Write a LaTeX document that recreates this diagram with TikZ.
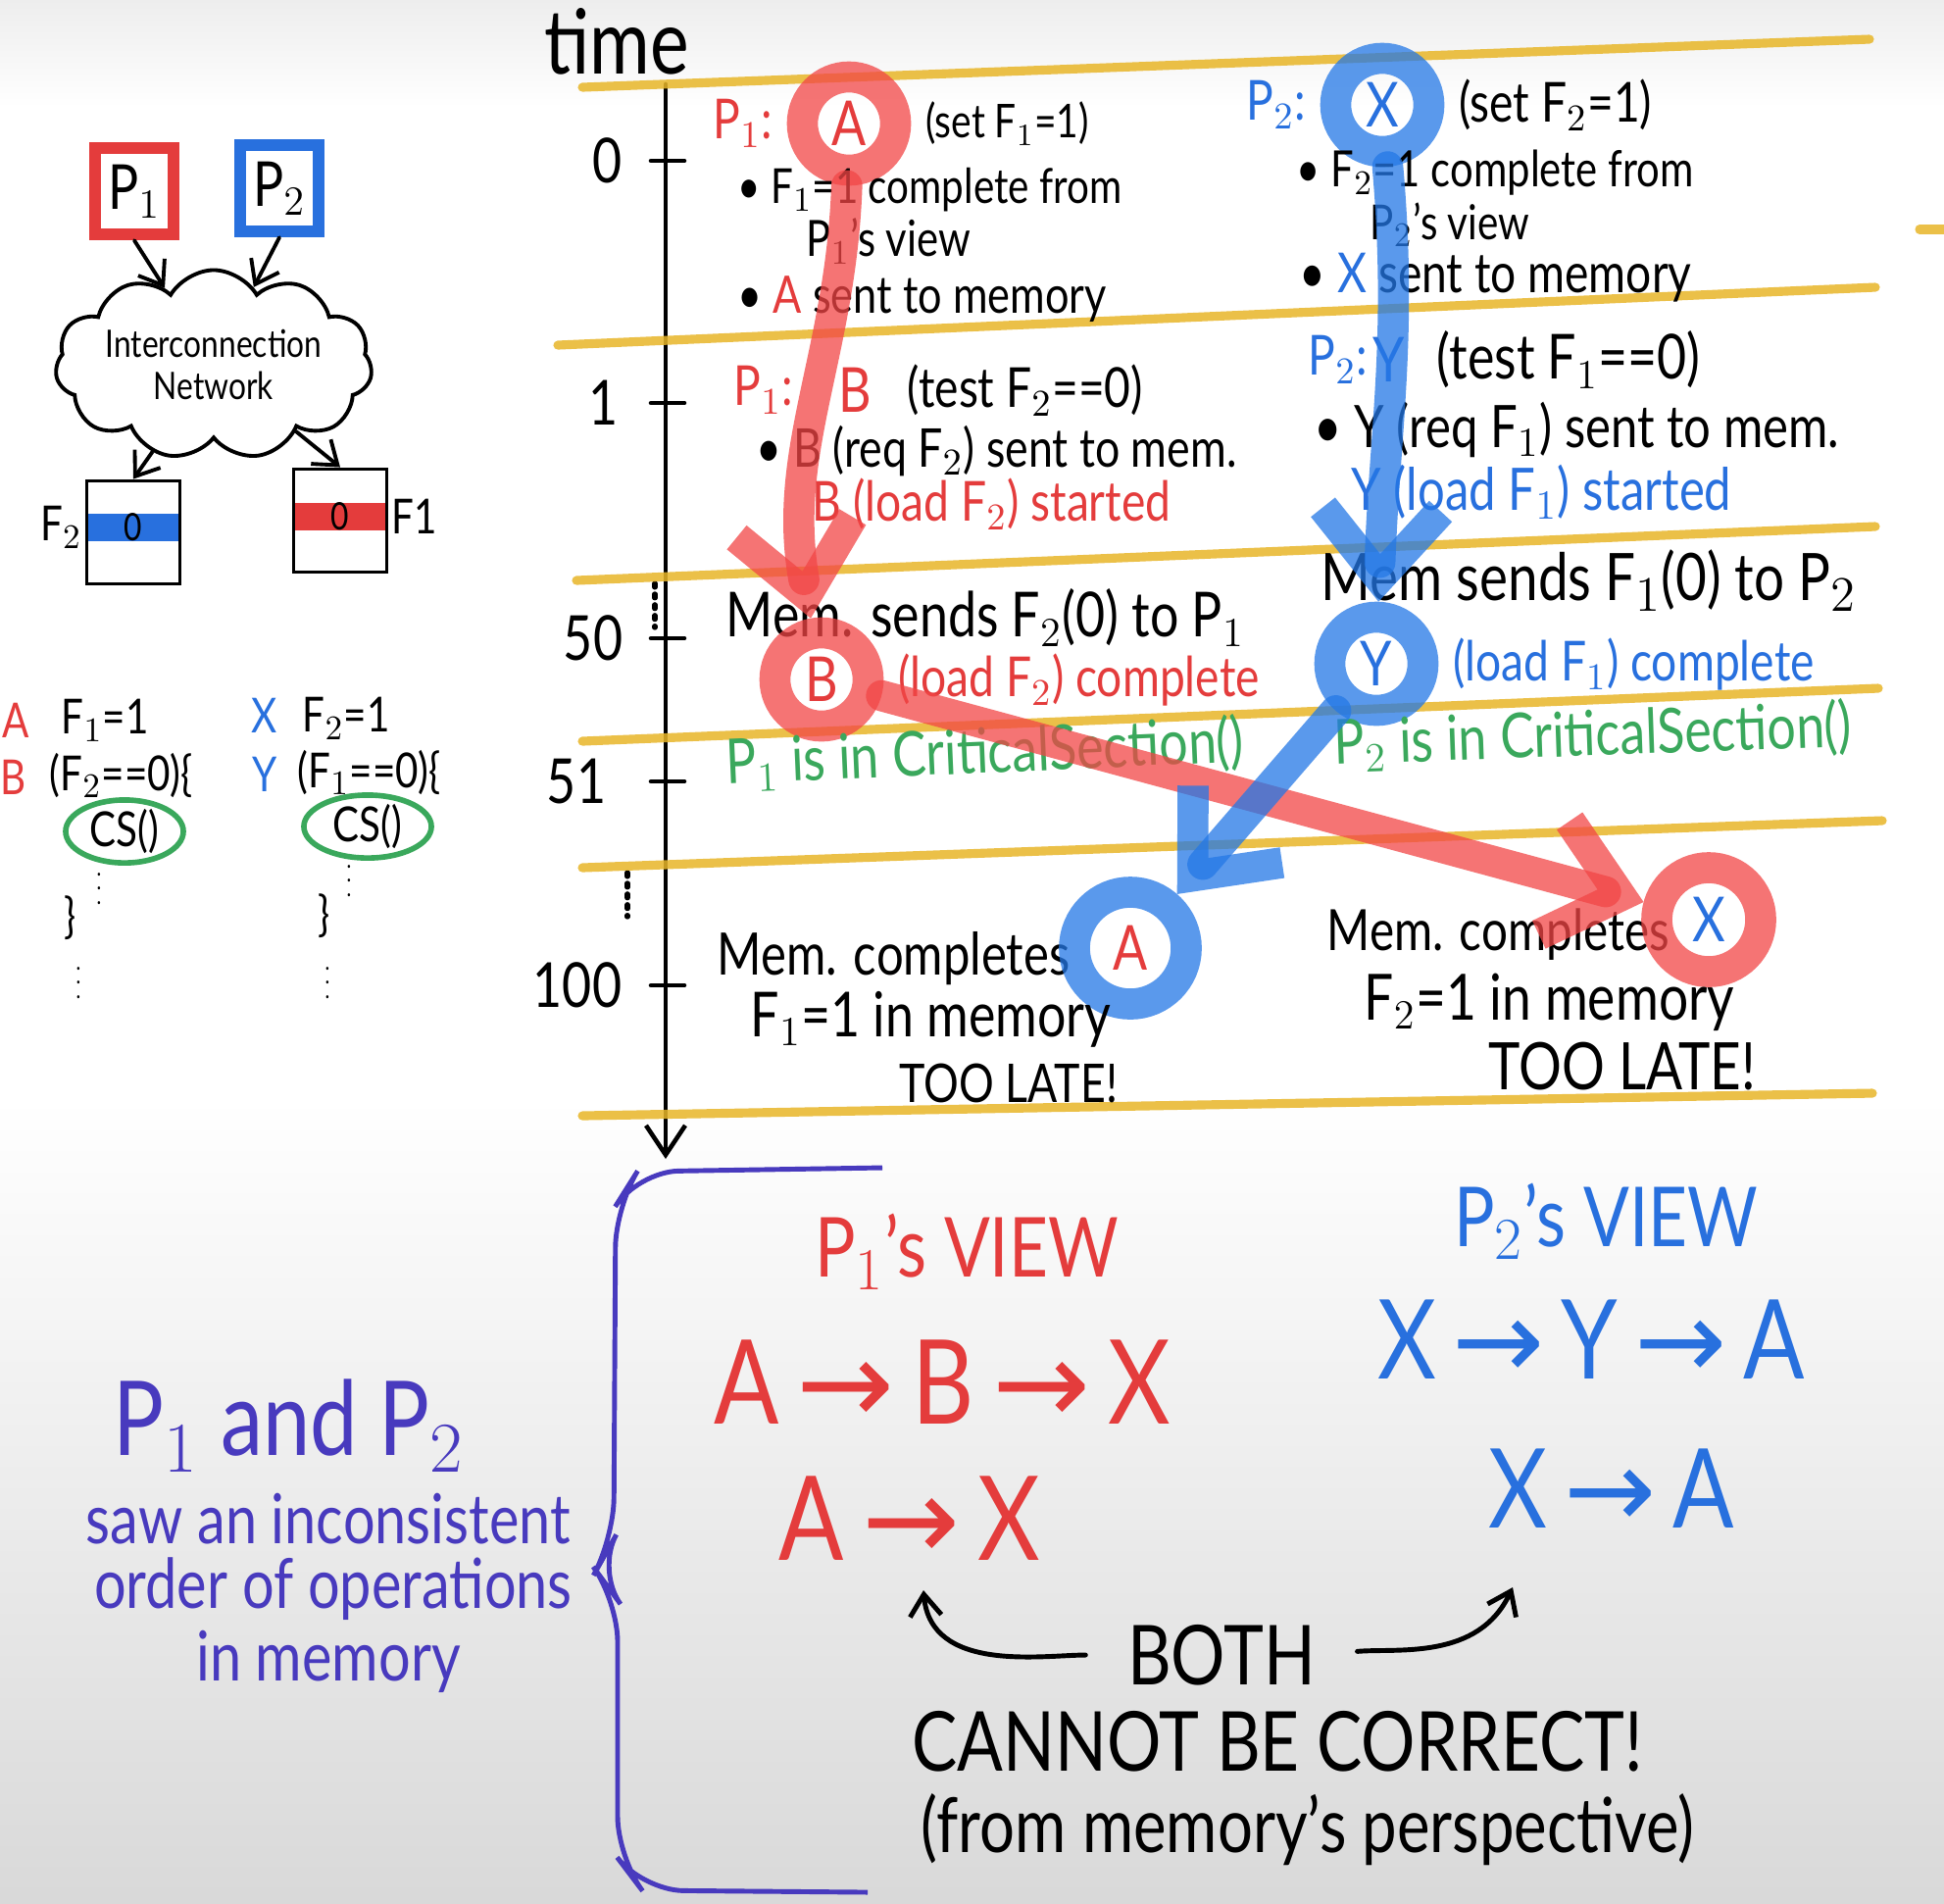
\documentclass[tikz,border=0pt]{standalone}
\usepackage{fontspec}
\setmainfont[FakeStretch=0.82]{Lato}
\newfontfamily\arrowfont{DejaVu Sans}
\usepackage{tikz}
\usetikzlibrary{arrows.meta, positioning, shapes.geometric, shapes.symbols}

\definecolor{penred}{RGB}{228,60,60}
\definecolor{penblue}{RGB}{40,112,222}
\definecolor{pengreen}{RGB}{58,168,92}
\definecolor{hlred}{RGB}{242,70,70}
\definecolor{hlblue}{RGB}{36,120,230}
\definecolor{marker}{RGB}{232,182,40}
\definecolor{purplepen}{RGB}{72,58,190}

\newcommand{\Fone}{F$_1$}
\newcommand{\Ftwo}{F$_2$}
\newcommand{\Pone}{P$_1$}
\newcommand{\Ptwo}{P$_2$}
\newcommand{\goesto}{\hspace{0.15em}{\arrowfont →}\hspace{0.15em}}

\begin{document}
\begin{tikzpicture}[x=0.01cm, y=-0.01cm,
    pen/.style={line width=1.1pt, line cap=round},
    barb/.style={pen, -{Straight Barb[length=2.2mm, width=3.2mm]}},
    mk/.style={draw=marker, line width=2.6pt, opacity=.85, line cap=round},
    txt/.style={anchor=west, inner sep=0pt, font=\fontsize{#1}{#1}\selectfont},
    txt/.default=14,
    ring/.style={circle, draw=#1, draw opacity=.75, line width=9pt, minimum size=0.95cm, inner sep=0pt, font=\fontsize{18}{18}\selectfont},
    hlR/.style={draw=hlred, draw opacity=.75, line width=9pt, line cap=round, -{Straight Barb[length=7mm, width=12mm]}},
    hlB/.style={draw=hlblue, draw opacity=.75, line width=9pt, line cap=round, -{Straight Barb[length=7mm, width=12mm]}},
    pbox/.style={draw=#1, line width=3.5pt, fill=white, minimum width=0.8cm, minimum height=0.88cm, inner sep=1pt, font=\fontsize{18}{18}\selectfont},
    membox/.style={draw, pen, minimum width=0.95cm, minimum height=1.05cm},
    band/.style={fill=#1, minimum width=0.95cm, minimum height=0.22cm, inner sep=0pt, font=\fontsize{11}{11}\selectfont},
    code/.style={inner sep=0pt, font=\fontsize{14}{15}\selectfont},
    dots/.style={inner sep=0pt, font=\fontsize{7}{7}\selectfont},
    csel/.style={ellipse, draw=pengreen, line width=1.6pt, minimum width=1.2cm, minimum height=0.64cm, inner sep=0pt, font=\fontsize{14}{15}\selectfont},
    tick/.style={font=\fontsize{18}{18}\selectfont},
    view/.style={font=\fontsize{24}{26}\selectfont},
    order/.style={font=\fontsize{#1}{#1}\selectfont},
    order/.default=34,
    note/.style={inner sep=0pt, font=\fontsize{#1}{#1}\selectfont},
    note/.default=20,
  ]
  \useasboundingbox (0,0) rectangle (1983,1941);
  % board
  \fill[white] (0,0) rectangle (1983,1941);
  \shade[top color=gray!14, bottom color=white] (0,0) rectangle (1983,110);
  \shade[top color=white, bottom color=gray!30] (0,1120) rectangle (1983,1941);

  % processors, network, memory
  \node[pbox=penred] (p1) at (137,195) {\Pone};
  \node[pbox=penblue] (p2) at (285,192) {\Ptwo};
  \node[cloud, draw, pen, cloud puffs=11, cloud puff arc=120, aspect=2.1, minimum width=2.85cm, minimum height=1.45cm, inner sep=0pt, align=center, font=\fontsize{11}{12}\selectfont] (net) at (218,372) {Interconnection\\Network};
  \node[band=penblue] (f2val) at (136,538) {0};
  \node[membox] (m2) at (136,543) {};
  \node[band=penred] (f1val) at (347,527) {0};
  \node[membox] (m1) at (347,531) {};
  \node[code, left=1pt of f2val] (f2lab) {F$_2$};
  \node[code, right=1pt of f1val] (f1lab) {F1};
  \draw[barb] (p1.south) -- (net);
  \draw[barb] (p2.south) -- (net);
  \draw[barb] (net) -- (m2.north);
  \draw[barb] (net) -- (m1.north);

  % the two programs
  \node[code, text=penred] (cA) at (16,735) {A};
  \node[code, anchor=west] (cA1) at (62,735) {\Fone=1};
  \node[code, text=penred] (cB) at (14,793) {B};
  \node[code, anchor=west] (cB1) at (50,791) {(\Ftwo==0)\{};
  \node[csel] (cs1) at (127,848) {CS()};
  \node[dots] (cd1) at (101,896) {$\vdots$};
  \node[code] (cc1) at (72,936) {\}};
  \node[dots] (cd2) at (80,992) {$\vdots$};
  \node[code, text=penblue] (cX) at (270,730) {X};
  \node[code, anchor=west] (cX1) at (308,733) {\Ftwo=1};
  \node[code, text=penblue] (cY) at (270,790) {Y};
  \node[code, anchor=west] (cY1) at (303,788) {(\Fone==0)\{};
  \node[csel, minimum width=1.3cm, minimum height=0.6cm] (cs2) at (375,843) {CS()};
  \node[dots] (cd3) at (356,888) {$\vdots$};
  \node[code] (cc2) at (331,934) {\}};
  \node[dots] (cd4) at (334,992) {$\vdots$};

  % time axis
  \node[font=\fontsize{26}{26}\selectfont] (time) at (629,42) {time};
  \coordinate (axtop) at (679,86);
  \coordinate (axbot) at (679,1182);
  \draw[pen, line width=1.3pt, -{Straight Barb[length=3mm, width=4mm]}] (axtop) -- (axbot);
  \foreach \ty/\tl/\tx in {164/0/620, 411/1/616, 651/50/605, 797/51/588, 1005/100/589} {
    \draw[pen, line width=1.3pt] (664,\ty) -- (698,\ty);
    \node[tick] (t\tl) at (\tx,\ty) {\tl};
  }
  \draw[pen, dotted, line width=1.5pt] (668,595) -- (668,640);
  \draw[pen, dotted, line width=1.5pt] (640,890) -- (640,935);

  % yellow rows
  \draw[mk] (594,89) -- (1907,40);
  \draw[mk] (569,352) -- (1913,293);
  \draw[mk] (1958,234) -- (1983,234);
  \draw[mk] (588,592) -- (1913,537);
  \draw[mk] (594,756) -- (1916,702);
  \draw[mk] (594,885) -- (1920,837);
  \draw[mk] (594,1138) -- (1910,1115);

  % P1 column
  \node[ring=hlred, text=penred] (ringA) at (866,126) {A};
  \node[txt=16, text=penred, left=4pt of ringA] (p1set) {\Pone:};
  \node[txt=13.5, right=4pt of ringA] (setA) {(set \Fone=1)};
  \node[txt=14] (a1) at (752,194) {• \Fone=1 complete from};
  \node[txt=14.5] (a2) at (822,246) {\Pone's view};
  \node[txt=15] (a3) at (752,305) {• \textcolor{penred}{A} sent to memory};
  \node[txt=16, text=penred] (p1test) at (748,398) {\Pone:};
  \node[txt=18, text=penred] (opB) at (855,398) {B};
  \node[txt=16] (testB) at (925,398) {(test \Ftwo==0)};
  \node[txt=15.5] (a5) at (771,460) {• B (req \Ftwo) sent to mem.};
  \node[txt=16, text=penred] (a6) at (828,514) {B (load \Ftwo) started};
  \node[txt=18] (a7) at (740,630) {Mem. sends \Ftwo(0) to \Pone};
  \node[ring=hlred, text=penred] (ringB) at (838,693) {B};
  \node[txt=16, text=penred, right=4pt of ringB] (a8) {(load \Ftwo) complete};
  \node[txt=18, text=pengreen, rotate=2.5] (a9) at (740,780) {\Pone{} is in CriticalSection()};
  \node[txt=17] (a10) at (731,978) {Mem. completes};
  \node[ring=hlblue, text=penred, minimum size=1.14cm] (ringAm) at (1153,967) {A};
  \node[txt=18] (a11) at (765,1040) {\Fone=1 in memory};
  \node[txt=15.5] (a12) at (917,1105) {TOO LATE!};

  % P2 column
  \node[ring=hlblue, text=penblue] (ringX) at (1410,107) {X};
  \node[txt=16, text=penblue, left=4pt of ringX] (p2set) {\Ptwo:};
  \node[txt=16, right=4pt of ringX] (setX) {(set \Ftwo=1)};
  \node[txt=14.5] (b1) at (1322,176) {• \Ftwo=1 complete from};
  \node[txt=14] (b2) at (1397,229) {\Ptwo's view};
  \node[txt=16] (b3) at (1325,283) {• \textcolor{penblue}{X} sent to memory};
  \node[txt=16, text=penblue] (p2test) at (1334,367) {\Ptwo:};
  \node[txt=18, text=penblue] (opY) at (1400,367) {Y};
  \node[txt=18] (testY) at (1465,367) {(test \Fone==0)};
  \node[txt=17] (b5) at (1340,438) {• Y (req \Fone) sent to mem.};
  \node[txt=17, text=penblue] (b6) at (1378,502) {Y (load \Fone) started};
  \node[txt=19] (b7) at (1347,592) {Mem sends \Fone(0) to \Ptwo};
  \node[ring=hlblue, text=penblue] (ringY) at (1404,677) {Y};
  \node[txt=16, text=penblue, right=4pt of ringY] (b8) {(load \Fone) complete};
  \node[txt=18, text=pengreen, rotate=2] (b9) at (1360,760) {\Ptwo{} is in CriticalSection()};
  \node[txt=16.5] (b10) at (1353,953) {Mem. completes};
  \node[ring=hlred, text=penblue, minimum size=1.06cm] (ringXm) at (1743,938) {X};
  \node[txt=18.5] (b11) at (1391,1022) {\Ftwo=1 in memory};
  \node[txt=19] (b12) at (1518,1088) {TOO LATE!};

  % highlighter strokes
  \draw[hlR] (ringA) to[out=-92, in=100] (ringB);
  \draw[hlR] (ringB) -- (ringXm);
  \draw[hlB] (ringX) to[out=-85, in=88] (ringY);
  \draw[hlB] (ringY) -- (ringAm);

  % summary
  \draw[purplepen, line width=1.4pt, rounded corners=12pt] (900,1191) -- (650,1195) -- (628,1230) -- (626,1570) -- (608,1602) -- (630,1632) -- (630,1895) -- (655,1928) -- (885,1930);
  \node[order=30, text=purplepen] (pand) at (295,1454) {\Pone{} and \Ptwo};
  \node[note, text=purplepen] (saw1) at (335,1549) {saw an inconsistent};
  \node[note, text=purplepen] (saw2) at (340,1621) {order of operations};
  \node[note, text=purplepen] (saw3) at (335,1695) {in memory};
  \node[view, text=penred] (v1) at (986,1277) {\Pone's VIEW};
  \node[order, text=penred] (v1a) at (961,1410) {A\goesto B\goesto X};
  \node[order, text=penred] (v1b) at (928,1549) {A\goesto X};
  \node[view, text=penblue] (v2) at (1638,1246) {\Ptwo's VIEW};
  \node[order=32, text=penblue] (v2a) at (1623,1366) {X\goesto Y\goesto A};
  \node[order=32, text=penblue] (v2b) at (1644,1518) {X\goesto A};
  \node[note=24] (both) at (1246,1688) {BOTH};
  \node[note=24] (cant) at (1303,1776) {CANNOT BE CORRECT!};
  \node[note=22] (persp) at (1334,1866) {(from memory's perspective)};
  \coordinate (tipL) at (942,1622);
  \coordinate (tipR) at (1543,1619);
  \draw[barb, line width=1.4pt, shorten <=12pt] (both.west) to[out=180, in=-85] (tipL);
  \draw[barb, line width=1.4pt, shorten <=12pt] (both.east) to[out=5, in=-115] (tipR);
\end{tikzpicture}
\end{document}
